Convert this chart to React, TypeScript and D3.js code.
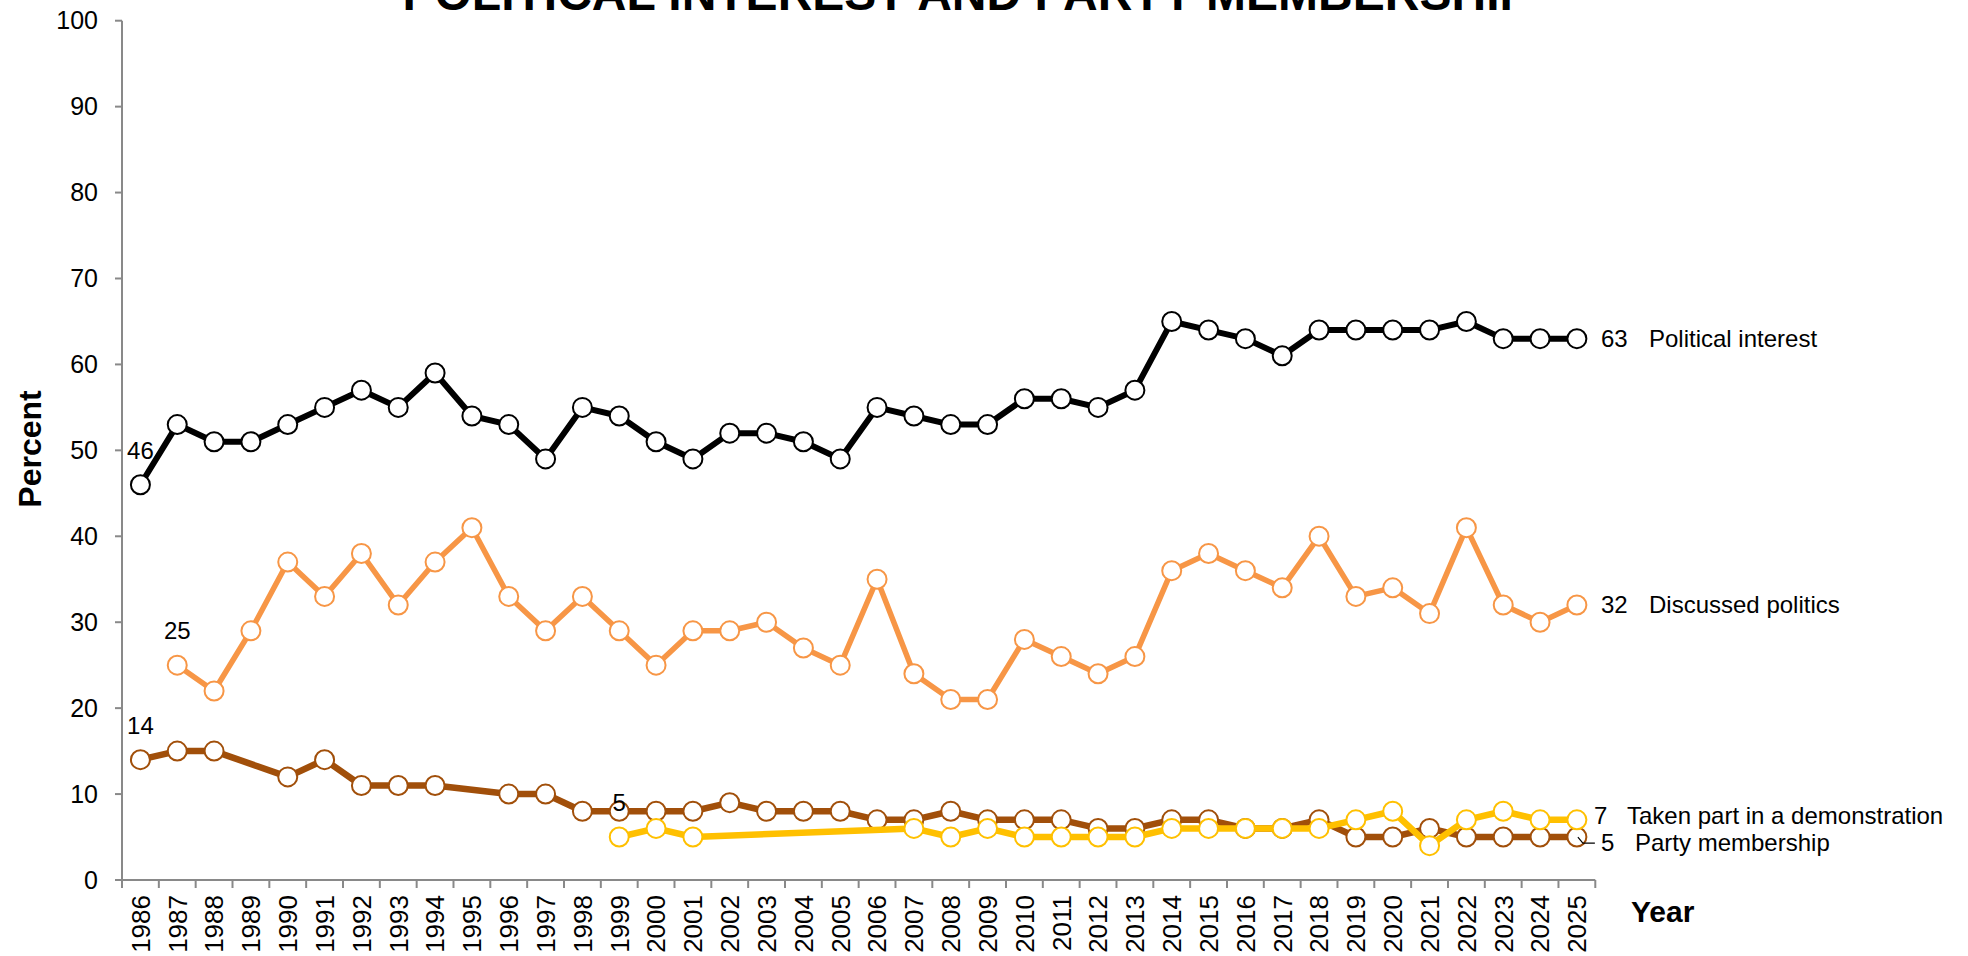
import React from "react";
import * as d3 from "d3";

const years: string[] = [
  "1986","1987","1988","1989","1990","1991","1992","1993","1994","1995",
  "1996","1997","1998","1999","2000","2001","2002","2003","2004","2005",
  "2006","2007","2008","2009","2010","2011","2012","2013","2014","2015",
  "2016","2017","2018","2019","2020","2021","2022","2023","2024","2025",
];

const politicalInterest: (number | null)[] = [
  46, 53, 51, 51, 53, 55, 57, 55, 59, 54,
  53, 49, 55, 54, 51, 49, 52, 52, 51, 49,
  55, 54, 53, 53, 56, 56, 55, 57, 65, 64,
  63, 61, 64, 64, 64, 64, 65, 63, 63, 63,
];

const discussedPolitics: (number | null)[] = [
  null, 25, 22, 29, 37, 33, 38, 32, 37, 41,
  33, 29, 33, 29, 25, 29, 29, 30, 27, 25,
  35, 24, 21, 21, 28, 26, 24, 26, 36, 38,
  36, 34, 40, 33, 34, 31, 41, 32, 30, 32,
];

const partyMembership: (number | null)[] = [
  14, 15, 15, null, 12, 14, 11, 11, 11, null,
  10, 10, 8, 8, 8, 8, 9, 8, 8, 8,
  7, 7, 8, 7, 7, 7, 6, 6, 7, 7,
  6, 6, 7, 5, 5, 6, 5, 5, 5, 5,
];

const demonstration: (number | null)[] = [
  null, null, null, null, null, null, null, null, null, null,
  null, null, null, 5, 6, 5, null, null, null, null,
  null, 6, 5, 6, 5, 5, 5, 5, 6, 6,
  6, 6, 6, 7, 8, 4, 7, 8, 7, 7,
];

const yTicks: number[] = [0, 10, 20, 30, 40, 50, 60, 70, 80, 90, 100];

const seriesNames: string[] = [
  "Political interest",
  "Discussed politics",
  "Taken part in a demonstration",
  "Party membership",
];

const FONT = "'Liberation Sans', Arial, Helvetica, sans-serif";

type Series = {
  name: string;
  values: (number | null)[];
  color: string;
  width: number;
};

export default function App() {
  const W = 1968;
  const H = 956;
  const x = d3.scaleBand<string>().domain(years).range([122, 1595.3]).padding(0);
  const y = d3.scaleLinear().domain([0, 100]).range([880, 20.7]);
  const cx = (i: number) => (x(years[i]) as number) + x.bandwidth() / 2;

  const series: Series[] = [
    { name: seriesNames[0], values: politicalInterest, color: "#000000", width: 6 },
    { name: seriesNames[1], values: discussedPolitics, color: "#F79646", width: 5.5 },
    { name: seriesNames[3], values: partyMembership, color: "#A14F0A", width: 6.5 },
    { name: seriesNames[2], values: demonstration, color: "#FFC000", width: 6.5 },
  ];

  const line = d3
    .line<{ i: number; v: number }>()
    .x((d) => cx(d.i))
    .y((d) => y(d.v));

  const pts = (vals: (number | null)[]) =>
    vals
      .map((v, i) => ({ i, v: v as number }))
      .filter((d) => vals[d.i] !== null);

  const boundaries = years.map((yr) => x(yr) as number).concat([1595.3]);

  const lastIdx = years.length - 1;

  const startLabels = [
    { i: 0, v: politicalInterest[0] as number },
    { i: 1, v: discussedPolitics[1] as number },
    { i: 0, v: partyMembership[0] as number },
    { i: 13, v: demonstration[13] as number },
  ];

  const endLabels = [
    { v: politicalInterest[lastIdx] as number, name: seriesNames[0], nx: 1601, lx: 1649, dy: 0 },
    { v: discussedPolitics[lastIdx] as number, name: seriesNames[1], nx: 1601, lx: 1649, dy: 0 },
    { v: demonstration[lastIdx] as number, name: seriesNames[2], nx: 1594, lx: 1627, dy: -4 },
    { v: partyMembership[lastIdx] as number, name: seriesNames[3], nx: 1601, lx: 1635, dy: 6 },
  ];

  const pmY = y(partyMembership[lastIdx] as number);

  return (
    <svg
      width={W}
      height={H}
      style={{ position: "absolute", left: 0, top: 0, display: "block", background: "#fff" }}
      fontFamily={FONT}
    >
      <rect x={0} y={0} width={W} height={H} fill="#fff" />
      <text x={967} y={10} textAnchor="middle" fontSize={48} fontWeight="bold" fill="#000">
        POLITICAL INTEREST AND PARTY MEMBERSHIP
      </text>

      {/* Y axis */}
      <line x1={122} x2={122} y1={y(100)} y2={y(0)} stroke="#898989" strokeWidth={2} />
      {yTicks.map((t) => (
        <g key={t}>
          <line x1={115} x2={122} y1={y(t)} y2={y(t)} stroke="#898989" strokeWidth={2} />
          <text x={98} y={y(t)} dy="0.35em" textAnchor="end" fontSize={25} fill="#000">
            {t}
          </text>
        </g>
      ))}

      {/* X axis */}
      <line x1={122} x2={1595.3} y1={y(0)} y2={y(0)} stroke="#898989" strokeWidth={2} />
      {boundaries.map((b, i) => (
        <line key={i} x1={b} x2={b} y1={y(0)} y2={y(0) + 8} stroke="#898989" strokeWidth={2} />
      ))}
      {years.map((yr, i) => (
        <text
          key={yr}
          transform={`translate(${cx(i)},895) rotate(-90)`}
          dy="0.36em"
          textAnchor="end"
          fontSize={26}
          fill="#000"
        >
          {yr}
        </text>
      ))}

      {/* Axis titles */}
      <text
        transform="translate(30,449) rotate(-90)"
        dy="0.35em"
        textAnchor="middle"
        fontSize={32}
        fontWeight="bold"
        fill="#000"
      >
        Percent
      </text>
      <text x={1631} y={911} dy="0.35em" fontSize={30} fontWeight="bold" fill="#000">
        Year
      </text>

      {/* Series */}
      {series.map((s) => {
        const p = pts(s.values);
        return (
          <g key={s.name}>
            <path
              d={line(p) || ""}
              fill="none"
              stroke={s.color}
              strokeWidth={s.width}
              strokeLinejoin="round"
            />
            {p.map((d) => (
              <circle
                key={d.i}
                cx={cx(d.i)}
                cy={y(d.v)}
                r={9.5}
                fill="#fff"
                stroke={s.color}
                strokeWidth={2}
              />
            ))}
          </g>
        );
      })}

      {/* Start labels */}
      {startLabels.map((l, k) => (
        <text key={k} x={cx(l.i)} y={y(l.v) - 26} textAnchor="middle" fontSize={24} fill="#000">
          {l.v}
        </text>
      ))}

      {/* End labels */}
      {endLabels.map((l, k) => (
        <g key={k}>
          <text x={l.nx} y={y(l.v) + l.dy} dy="0.35em" fontSize={24} fill="#000">
            {l.v}
          </text>
          <text x={l.lx} y={y(l.v) + l.dy} dy="0.35em" fontSize={24} fill="#000">
            {l.name}
          </text>
        </g>
      ))}
      <path
        d={`M${cx(lastIdx) + 1},${pmY} L${cx(lastIdx) + 6},${pmY + 6} L${cx(lastIdx) + 18},${pmY + 6}`}
        fill="none"
        stroke="#000"
        strokeWidth={1.2}
      />
    </svg>
  );
}
